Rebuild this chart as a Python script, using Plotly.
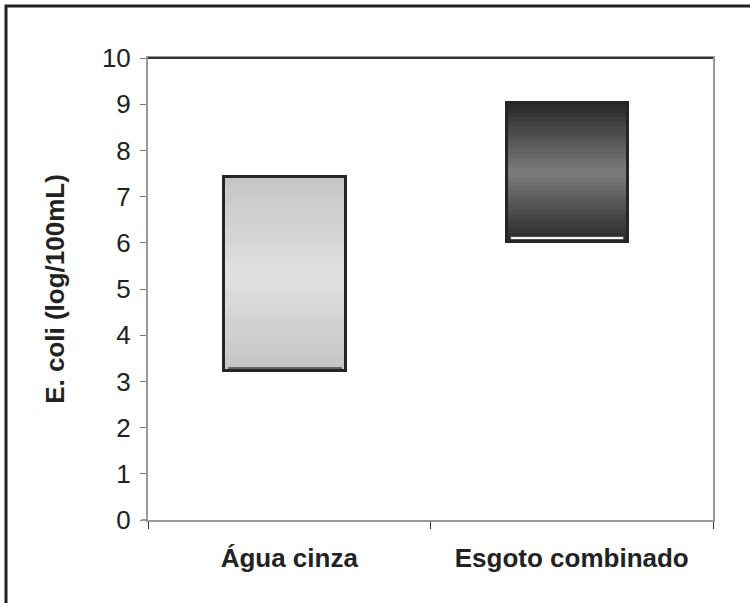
import plotly.graph_objects as go

categories = ["Água cinza", "Esgoto combinado"]
low_values = [3.23, 6.02]
high_values = [7.42, 9.02]
inner_low = [3.26, 6.05]
inner_high = [3.29, 6.12]
y_ticks = [0, 1, 2, 3, 4, 5, 6, 7, 8, 9, 10]

# gradient styling (edge colour, centre colour) per bar
edge_rgb = [(196, 196, 196), (40, 40, 40)]
centre_rgb = [(225, 225, 225), (124, 124, 124)]
N_BANDS = 30
BAR_W = 0.43
BAR_OFFSET = -BAR_W / 2 - 0.015

FONT = "Liberation Sans, Arial, sans-serif"

fig = go.Figure()

for i, cat in enumerate(categories):
    lo, hi = low_values[i], high_values[i]
    span = hi - lo
    for k in range(N_BANDS):
        t = (k + 0.5) / N_BANDS
        w = 1 - abs(2 * t - 1)  # 0 at edges, 1 in centre
        c = tuple(int(round(edge_rgb[i][j] + (centre_rgb[i][j] - edge_rgb[i][j]) * w)) for j in range(3))
        fig.add_trace(go.Bar(
            x=[cat], y=[span / N_BANDS * 1.02], base=[lo + span * k / N_BANDS],
            marker=dict(color=f"rgb{c}", line=dict(width=0)),
            width=BAR_W, offset=BAR_OFFSET, showlegend=False, hoverinfo="skip",
        ))

# inner white open/close bar
fig.add_trace(go.Bar(
    x=categories, y=[h - l for h, l in zip(inner_high, inner_low)], base=inner_low,
    marker=dict(color="white", line=dict(width=0.8, color="#333")),
    width=BAR_W - 0.03, offset=BAR_OFFSET + 0.015, showlegend=False, hoverinfo="skip",
))

# outline
fig.add_trace(go.Bar(
    x=categories, y=[h - l for h, l in zip(high_values, low_values)], base=low_values,
    marker=dict(color="rgba(0,0,0,0)", line=dict(width=3, color="#262626")),
    width=BAR_W, offset=BAR_OFFSET, showlegend=False, hoverinfo="skip",
))

fig.update_layout(
    width=750, height=603,
    margin=dict(l=148, r=37, t=58, b=83),
    paper_bgcolor="white", plot_bgcolor="white",
    barmode="overlay", bargap=0,
    font=dict(family=FONT, color="#222"),
    xaxis=dict(
        type="category", tickson="boundaries", ticks="outside", ticklen=7,
        tickcolor="#333", tickwidth=1,
        showline=True, linecolor="#999", linewidth=2, mirror=True,
        showgrid=False, tickfont=dict(size=26, family=FONT, color="#222", weight="bold"),
        ticklabelstandoff=14,
    ),
    yaxis=dict(
        range=[0, 10], tickvals=y_ticks, ticks="outside", ticklen=6,
        tickcolor="#777", tickwidth=1,
        showline=True, linecolor="#999", linewidth=2, mirror=True,
        showgrid=False, zeroline=False,
        tickfont=dict(size=26, color="#222"),
        ticklabelstandoff=4,
        title=dict(text="<b>E. coli (log/100mL)</b>", font=dict(size=26, color="#222"), standoff=30),
    ),
    shapes=[
        # top edge of plot box (dark)
        dict(type="line", xref="paper", yref="paper", x0=0, x1=1, y0=1, y1=1,
             line=dict(color="#333", width=2)),
        # x-axis line extension to the left of the y axis
        dict(type="line", xref="paper", yref="paper", x0=-0.012, x1=0, y0=0, y1=0,
             line=dict(color="#999", width=2)),
        # outer frame
        dict(type="rect", xref="paper", yref="paper",
             x0=(6 - 148) / 565, x1=(760 - 148) / 565,
             y0=(520 - 615) / 462, y1=(520 - 6) / 462,
             line=dict(color="#222", width=3), fillcolor="rgba(0,0,0,0)"),
    ],
)

fig.write_html("out.html", config={"displayModeBar": False},
               post_script="document.body.style.margin='0';document.body.style.padding='0';")
